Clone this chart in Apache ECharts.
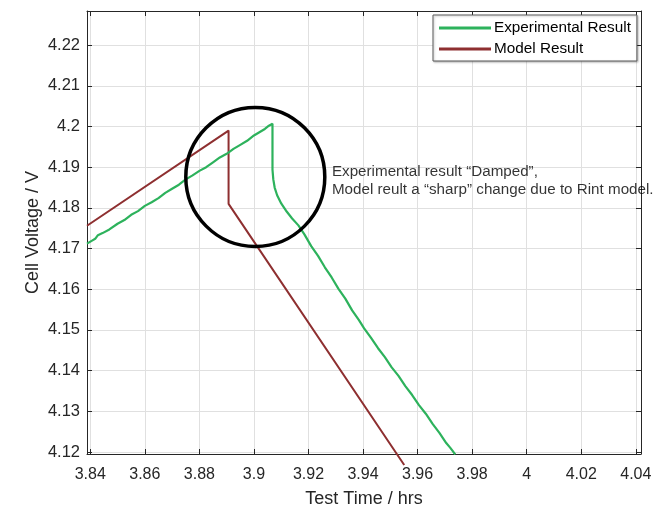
<!DOCTYPE html>
<html>
<head>
<meta charset="utf-8">
<script src="https://cdn.jsdelivr.net/npm/echarts@6/dist/echarts.min.js"></script>
<style>
  html, body { margin: 0; padding: 0; background: #ffffff; }
  #chart { width: 667px; height: 508px; }
</style>
</head>
<body>
<div id="chart"></div>
<script>
// Axis ranges and tick positions
const xRange = [3.8388, 4.0419];
const yRange = [4.1195, 4.2284];
const xTicks = [3.84, 3.86, 3.88, 3.9, 3.92, 3.94, 3.96, 3.98, 4, 4.02, 4.04];
const yTicks = [4.12, 4.13, 4.14, 4.15, 4.16, 4.17, 4.18, 4.19, 4.2, 4.21, 4.22];

// Measured cell voltage (hrs, V)
const expTime = [
  3.8388, 3.8405, 3.8418, 3.8428, 3.8445, 3.8470, 3.8500, 3.8525, 3.8550, 3.8575,
  3.8600, 3.8625, 3.8650, 3.8675, 3.8700, 3.8725, 3.8750, 3.8775, 3.8800, 3.8825,
  3.8850, 3.8875, 3.8900, 3.8925, 3.8950, 3.8975, 3.9000, 3.9020, 3.9040, 3.9055,
  3.9068, 3.9068, 3.9071, 3.9076, 3.9085, 3.9100, 3.9120, 3.9140, 3.9163, 3.9185,
  3.9210, 3.9235, 3.9260, 3.9285, 3.9310, 3.9335, 3.9360, 3.9385, 3.9404, 3.9430,
  3.9455, 3.9480, 3.9505, 3.9530, 3.9555, 3.9580, 3.9605, 3.9630, 3.9655, 3.9680,
  3.9705, 3.9720, 3.9738
];
const expVolt = [
  4.1712, 4.1719, 4.1724, 4.1733, 4.1738, 4.1747, 4.1761, 4.1770, 4.1783, 4.1792,
  4.1805, 4.1814, 4.1824, 4.1837, 4.1847, 4.1857, 4.1870, 4.1880, 4.1891, 4.1900,
  4.1912, 4.1924, 4.1933, 4.1945, 4.1955, 4.1965, 4.1978, 4.1986, 4.1994, 4.2002,
  4.2007, 4.1894, 4.1870, 4.1850, 4.1831, 4.1811, 4.1791, 4.1774, 4.1757, 4.1735,
  4.1706, 4.1682, 4.1654, 4.1629, 4.1601, 4.1577, 4.1548, 4.1524, 4.1504, 4.1480,
  4.1455, 4.1433, 4.1408, 4.1387, 4.1362, 4.1340, 4.1315, 4.1294, 4.1269, 4.1247,
  4.1222, 4.1210, 4.1194
];

// Simulated cell voltage from the Rint model (hrs, V)
const modelTime = [3.8388, 3.8907, 3.8907, 3.9551];
const modelVolt = [4.1756, 4.1990, 4.1810, 4.1168];

// Callout ring and its note
const ringCenter = [3.9005, 4.1876];
const noteAnchor = [3.9286, 4.1867];
const noteLines = [
  'Experimental result \u201cDamped\u201d,',
  'Model reult a \u201csharp\u201d change due to Rint model.'
];

const FONT = '"Liberation Sans", Arial, Helvetica, sans-serif';
const INK = '#262626';
const GREEN = '#2db25c';
const RED = '#8e2f30';

const pair = (xs, ys) => xs.map((x, i) => [x, ys[i]]);

const chart = echarts.init(document.getElementById('chart'), null, { renderer: 'canvas' });

const tickStyle = { show: true, inside: true, length: 5, lineStyle: { color: INK, width: 1 } };
const lineAxis = { show: true, onZero: false, lineStyle: { color: INK, width: 1 } };

chart.setOption({
  animation: false,
  backgroundColor: '#ffffff',
  textStyle: { fontFamily: FONT },
  grid: { left: 87, right: 26, top: 11, bottom: 54, containLabel: false, outerBoundsMode: 'none' },
  legend: {
    data: ['Experimental Result', 'Model Result'],
    orient: 'vertical',
    left: 433,
    top: 15,
    padding: [5, 6, 4, 6],
    itemGap: 5,
    itemWidth: 52,
    itemHeight: 3,
    icon: 'rect',
    backgroundColor: '#ffffff',
    borderColor: '#5a5a5a',
    borderWidth: 1,
    shadowColor: 'rgba(0,0,0,0.25)',
    shadowBlur: 2,
    shadowOffsetX: 1,
    shadowOffsetY: 1,
    selectedMode: false,
    textStyle: { fontFamily: FONT, fontSize: 15.3, color: '#000000', lineHeight: 16, padding: [0, 0, 0, -2] }
  },
  xAxis: [
    {
      type: 'value',
      min: xRange[0],
      max: xRange[1],
      name: 'Test Time / hrs',
      nameLocation: 'middle',
      nameGap: 36,
      nameMoveOverlap: false,
      nameTextStyle: { fontFamily: FONT, fontSize: 18, color: INK },
      axisLine: lineAxis,
      axisTick: Object.assign({ customValues: xTicks }, tickStyle),
      axisLabel: { customValues: xTicks, margin: 13, fontFamily: FONT, fontSize: 16, color: INK },
      splitLine: { show: true, lineStyle: { color: '#e0e0e0', width: 1 } }
    },
    {
      type: 'value',
      position: 'top',
      min: xRange[0],
      max: xRange[1],
      axisLine: lineAxis,
      axisTick: Object.assign({ customValues: xTicks }, tickStyle),
      axisLabel: { show: false },
      splitLine: { show: false }
    }
  ],
  yAxis: [
    {
      type: 'value',
      min: yRange[0],
      max: yRange[1],
      name: 'Cell Voltage / V',
      nameLocation: 'middle',
      nameGap: 45,
      nameMoveOverlap: false,
      nameTextStyle: { fontFamily: FONT, fontSize: 18, color: INK },
      axisLine: lineAxis,
      axisTick: Object.assign({ customValues: yTicks }, tickStyle),
      axisLabel: { customValues: yTicks, margin: 7, fontFamily: FONT, fontSize: 16.5, color: INK },
      splitLine: { show: true, lineStyle: { color: '#e0e0e0', width: 1 } }
    },
    {
      type: 'value',
      position: 'right',
      min: yRange[0],
      max: yRange[1],
      axisLine: lineAxis,
      axisTick: Object.assign({ customValues: yTicks }, tickStyle),
      axisLabel: { show: false },
      splitLine: { show: false }
    }
  ],
  series: [
    {
      name: 'Experimental Result',
      type: 'line',
      data: pair(expTime, expVolt),
      showSymbol: false,
      symbol: 'none',
      lineStyle: { color: GREEN, width: 2.2 },
      itemStyle: { color: GREEN },
      z: 3
    },
    {
      name: 'Model Result',
      type: 'line',
      data: pair(modelTime, modelVolt),
      showSymbol: false,
      symbol: 'none',
      clip: false,
      lineStyle: { color: RED, width: 2 },
      itemStyle: { color: RED },
      z: 2
    },
    {
      name: 'ring',
      type: 'scatter',
      data: [ringCenter],
      symbol: 'circle',
      symbolSize: 139,
      silent: true,
      itemStyle: { color: 'rgba(0,0,0,0)', borderColor: '#000000', borderWidth: 3.5, opacity: 1 },
      emphasis: { disabled: true },
      z: 5
    },
    {
      name: 'note',
      type: 'scatter',
      data: [noteAnchor],
      symbolSize: 0,
      silent: true,
      label: {
        show: true,
        position: [0, 0],
        align: 'left',
        verticalAlign: 'middle',
        formatter: noteLines.join('\n'),
        fontFamily: FONT,
        fontSize: 15.2,
        lineHeight: 18.5,
        color: '#000000'
      },
      emphasis: { disabled: true },
      z: 6
    }
  ]
});
</script>
</body>
</html>
